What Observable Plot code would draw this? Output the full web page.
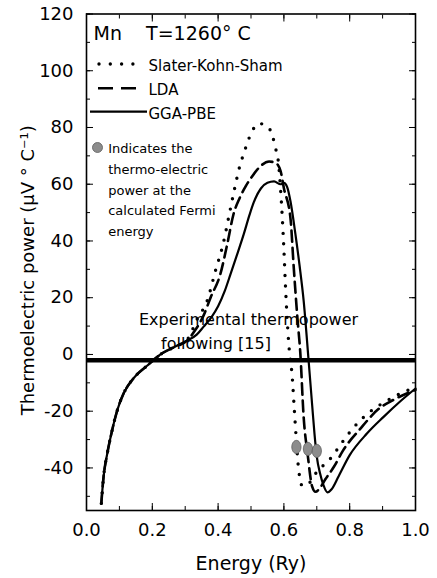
<!DOCTYPE html>
<html><head><meta charset="utf-8">
<script src="https://cdn.jsdelivr.net/npm/d3@7"></script>
<script src="https://cdn.jsdelivr.net/npm/@observablehq/plot@0.6"></script>
<style>html,body{margin:0;padding:0;background:#fff;}</style>
</head><body><div id="chart"></div>
<script>
// ---- data ----
const energySKS = [0.045,0.052,0.063,0.078,0.094,0.113,0.143,0.185,0.225,0.27,0.306,0.337,0.367,0.392,0.416,0.435,0.453,0.465,0.48,0.495,0.51,0.523,0.54,0.559,0.574,0.584,0.59,0.60,0.605,0.614,0.626,0.632,0.645,0.656,0.67,0.70,0.745,0.775,0.81,0.853,0.90,0.95,1.0];
const powerSKS  = [-52.5,-43,-35,-26.7,-19.5,-13.7,-8.4,-3.9,0,2.8,5.2,12.6,19,29.5,39.3,50,60,66,71.5,76.5,80,81.4,81,79,73,67,58,37,23.5,5,-9,-20,-40.7,-46.3,-46,-41.4,-36.2,-31.3,-26,-21,-17.2,-14,-11.5];

const energyLDA = [0.045,0.052,0.063,0.078,0.094,0.113,0.143,0.185,0.225,0.27,0.306,0.33,0.355,0.377,0.407,0.428,0.447,0.465,0.485,0.505,0.53,0.555,0.575,0.59,0.60,0.62,0.63,0.641,0.65,0.66,0.672,0.686,0.696,0.71,0.726,0.752,0.78,0.83,0.89,0.933,1.0];
const powerLDA  = [-52.5,-43,-35,-26.7,-19.5,-13.7,-8.4,-3.9,0,2.8,4.9,8.5,13.5,20,28.4,39,49.5,55,59.5,63,66.5,68,67.5,64.6,58.6,48,30.5,13,0.3,-22,-35,-46.6,-48.4,-47,-44,-39.6,-33.8,-26.5,-19,-16,-12.5];

const energyGGA = [0.045,0.052,0.063,0.078,0.094,0.113,0.143,0.185,0.225,0.27,0.306,0.335,0.356,0.38,0.40,0.42,0.438,0.46,0.478,0.495,0.508,0.53,0.55,0.57,0.59,0.60,0.61,0.62,0.635,0.648,0.66,0.675,0.686,0.693,0.70,0.71,0.72,0.732,0.745,0.766,0.80,0.853,0.903,0.954,1.0];
const powerGGA  = [-52.5,-43,-35,-26.7,-19.5,-13.7,-8.4,-3.9,0,2.8,4.9,7,9.8,13.2,17,22.3,28.4,36,42.4,49,53.5,58.5,60.5,61,60,60.5,59,54,42.4,31,19,-2,-18,-28,-36,-42,-46,-48.6,-47.5,-43,-35.5,-27.8,-22,-16.5,-12];

const fermiEnergy = [0.638, 0.673, 0.70];
const fermiPower  = [-32.6, -33.3, -34];

const experimentalPower = [-2];

const xMajorTicks = [0, 0.2, 0.4, 0.6, 0.8, 1.0];
const xMinorTicks = [0, 0.1, 0.2, 0.3, 0.4, 0.5, 0.6, 0.7, 0.8, 0.9, 1.0];
const yMajorTicks = [-40, -20, 0, 20, 40, 60, 80, 100, 120];
const yMinorTicks = [-50, -40, -30, -20, -10, 0, 10, 20, 30, 40, 50, 60, 70, 80, 90, 100, 110, 120];

const methodNames = ["Slater-Kohn-Sham", "LDA", "GGA-PBE"];

// ---- tables ----
const toRows = (xs, ys) => xs.map((e, i) => ({energy: e, power: ys[i]}));
const sks = toRows(energySKS, powerSKS);
const lda = toRows(energyLDA, powerLDA);
const gga = toRows(energyGGA, powerGGA);
const fermi = toRows(fermiEnergy, fermiPower);

const ellipse = {
  draw(ctx) {
    const rx = 4.6, ry = 6.6, k = 0.5523;
    ctx.moveTo(rx, 0);
    ctx.bezierCurveTo(rx, ry * k, rx * k, ry, 0, ry);
    ctx.bezierCurveTo(-rx * k, ry, -rx, ry * k, -rx, 0);
    ctx.bezierCurveTo(-rx, -ry * k, -rx * k, -ry, 0, -ry);
    ctx.bezierCurveTo(rx * k, -ry, rx, -ry * k, rx, 0);
    ctx.closePath();
  }
};

const font = "'DejaVu Sans', sans-serif";
const mL = 86, mT = 13.5;

const plot = Plot.plot({
  width: 437, height: 578,
  marginLeft: mL, marginRight: 22, marginTop: mT, marginBottom: 68,
  style: {fontFamily: font, fontSize: "18px", background: "#fff", color: "#000"},
  x: {domain: [0, 1]},
  y: {domain: [-55, 120]},
  marks: [
    // minor ticks (inward)
    Plot.axisX(xMinorTicks, {anchor: "bottom", tickSize: -4, tickFormat: () => "", label: null}),
    Plot.axisX(xMinorTicks, {anchor: "top", tickSize: -4, tickFormat: () => "", label: null}),
    Plot.axisY(yMinorTicks, {anchor: "left", tickSize: -4, tickFormat: () => "", label: null}),
    Plot.axisY(yMinorTicks, {anchor: "right", tickSize: -4, tickFormat: () => "", label: null}),
    // major ticks (inward)
    Plot.axisX(xMajorTicks, {anchor: "bottom", tickSize: -7, tickFormat: () => "", label: null}),
    Plot.axisX(xMajorTicks, {anchor: "top", tickSize: -7, tickFormat: () => "", label: null}),
    Plot.axisY(yMajorTicks, {anchor: "left", tickSize: -7, tickFormat: () => "", label: null}),
    Plot.axisY(yMajorTicks, {anchor: "right", tickSize: -7, tickFormat: () => "", label: null}),
    // tick labels
    Plot.axisX(xMajorTicks, {anchor: "bottom", tickSize: 0, tickPadding: 13, tickFormat: d3.format(".1f"), fontSize: 18, label: null}),
    Plot.axisY(yMajorTicks, {anchor: "left", tickSize: 0, tickPadding: 13, tickFormat: d => String(d), fontSize: 18, label: null}),
    Plot.frame({stroke: "#000", strokeWidth: 1.6}),
    // experimental thermopower
    Plot.ruleY(experimentalPower, {stroke: "#000", strokeWidth: 4.5}),
    // curves
    Plot.line(sks, {x: "energy", y: "power", curve: "monotone-x", stroke: "#000", strokeWidth: 3.4, strokeLinecap: "round", strokeDasharray: "0,10.5"}),
    Plot.line(lda, {x: "energy", y: "power", curve: "monotone-x", stroke: "#000", strokeWidth: 2.6, strokeDasharray: "11,6"}),
    Plot.line(gga, {x: "energy", y: "power", curve: "monotone-x", stroke: "#000", strokeWidth: 2.2}),
    // Fermi markers
    Plot.dot(fermi, {x: "energy", y: "power", symbol: ellipse, fill: "#8c8c8c", stroke: "#5a5a5a", strokeWidth: 0.8}),
    // header
    Plot.text(["Mn\u00a0\u00a0\u00a0\u00a0T=1260° C"], {text: d => d, frameAnchor: "top-left", textAnchor: "start", lineAnchor: "middle", dx: 7, dy: 19.7, fontSize: 19}),
    // legend labels
    Plot.text([methodNames[0]], {text: d => d, frameAnchor: "top-left", textAnchor: "start", lineAnchor: "middle", dx: 62, dy: 52.4, fontSize: 15}),
    Plot.text([methodNames[1]], {text: d => d, frameAnchor: "top-left", textAnchor: "start", lineAnchor: "middle", dx: 62, dy: 76, fontSize: 15}),
    Plot.text([methodNames[2]], {text: d => d, frameAnchor: "top-left", textAnchor: "start", lineAnchor: "middle", dx: 62, dy: 99.7, fontSize: 15}),
    // annotation
    Plot.dot([0], {frameAnchor: "top-left", dx: 11, dy: 133.5, r: 5, fill: "#8c8c8c", stroke: "#5a5a5a", strokeWidth: 0.8}),
    Plot.text(["Indicates the\nthermo-electric\npower at the\ncalculated Fermi\nenergy"], {text: d => d, frameAnchor: "top-left", textAnchor: "start", lineAnchor: "top", lineHeight: 1.59, dx: 21.7, dy: 124.5, fontSize: 13}),
    Plot.text(["Experimental thermopower"], {text: d => d, frameAnchor: "top-left", textAnchor: "middle", lineAnchor: "middle", dx: 162, dy: 305.4, fontSize: 16}),
    Plot.text(["following [15]"], {text: d => d, frameAnchor: "top-left", textAnchor: "middle", lineAnchor: "middle", dx: 129.5, dy: 329.5, fontSize: 16}),
    // axis titles
    Plot.text(["Energy (Ry)"], {text: d => d, frameAnchor: "bottom", lineAnchor: "middle", dy: 53, fontSize: 19}),
    Plot.text(["Thermoelectric power (µV ° C\u207B\u00B9)"], {text: d => d, frameAnchor: "left", textAnchor: "middle", lineAnchor: "middle", rotate: -90, dx: -58, dy: 8, fontSize: 18})
  ]
});

// legend line samples
const svg = d3.select(plot);
const lg = svg.append("g").attr("fill", "none").attr("stroke", "#000");
lg.append("line").attr("x1", 99).attr("x2", 134).attr("y1", 64).attr("y2", 64)
  .attr("stroke-width", 3.4).attr("stroke-linecap", "round").attr("stroke-dasharray", "0,11.3");
lg.append("line").attr("x1", 98).attr("x2", 137).attr("y1", 88.3).attr("y2", 88.3)
  .attr("stroke-width", 2.6).attr("stroke-dasharray", "15,8");
lg.append("line").attr("x1", 90).attr("x2", 147).attr("y1", 111.7).attr("y2", 111.7)
  .attr("stroke-width", 2.2);

document.getElementById("chart").appendChild(plot);
</script>
</body></html>
